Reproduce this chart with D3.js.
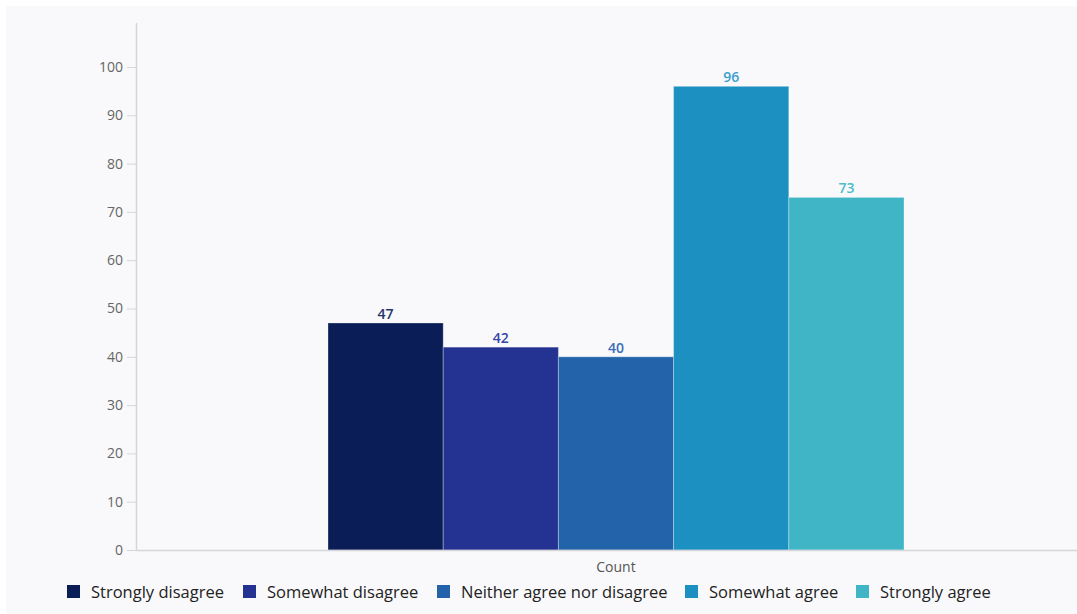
<!DOCTYPE html>
<html><head><meta charset="utf-8">
<script src="https://cdn.jsdelivr.net/npm/d3@7"></script>
<style>
html,body{margin:0;padding:0;background:#fff;}
svg{display:block;}
text{font-family:"Open Sans","Noto Sans",sans-serif;}
</style></head>
<body><svg id="chart" width="1077" height="614"></svg>
<script>
const groups = ["Count"];
const categories = ["Strongly disagree","Somewhat disagree","Neither agree nor disagree","Somewhat agree","Strongly agree"];
const values = [47, 42, 40, 96, 73];
const colors = ["#0a1d56","#243391","#2363a9","#1c90c0","#40b5c5"];
const labelColors = ["#27346a","#3545a8","#3a6db8","#3a9fd0","#4cbdcc"];
const yTicks = [0,10,20,30,40,50,60,70,80,90,100];

const svg = d3.select("#chart");
svg.append("rect").attr("x",6).attr("y",6).attr("width",1071).attr("height",608).attr("fill","#f9f9fb");

const y = d3.scaleLinear().domain([0,100]).range([550,67]);
const x0 = d3.scaleBand().domain(groups).range([136,1096]).paddingInner(0).paddingOuter(1/3);
const x1 = d3.scaleBand().domain(categories).range([0,x0.bandwidth()]).padding(0);

// y axis
const yAxis = d3.axisLeft(y).tickValues(yTicks).tickSize(9).tickPadding(4).tickFormat(d3.format("d"));
const gy = svg.append("g").attr("transform","translate(136,0)").call(yAxis);
gy.select(".domain").remove();
gy.selectAll(".tick line").attr("stroke","#d6d6da");
gy.selectAll(".tick text").attr("fill","#666").style("font-size","14px");
svg.append("line").attr("x1",136.5).attr("x2",136.5).attr("y1",23).attr("y2",550).attr("stroke","#d6d6da").attr("stroke-width",1.5);

// bars
const g = svg.append("g").attr("transform",`translate(${x0("Count")},0)`);
g.selectAll("rect").data(values).join("rect")
  .attr("x",(d,i)=>x1(categories[i]))
  .attr("y",d=>y(d))
  .attr("width",x1.bandwidth())
  .attr("height",d=>y(0)-y(d))
  .attr("fill",(d,i)=>colors[i])
  .attr("stroke","rgba(255,255,255,0.3)").attr("stroke-width",1);
g.selectAll("text.val").data(values).join("text").attr("class","val")
  .attr("x",(d,i)=>x1(categories[i])+x1.bandwidth()/2)
  .attr("y",d=>y(d)-4)
  .attr("text-anchor","middle")
  .attr("fill",(d,i)=>labelColors[i])
  .style("font-size","14px").style("font-weight","600")
  .text(d=>d);

// x axis
const xAxis = d3.axisBottom(x0).tickSize(0).tickPadding(12);
const gx = svg.append("g").attr("transform","translate(0,550)").call(xAxis);
gx.select(".domain").remove();
gx.selectAll(".tick text").attr("fill","#555").style("font-size","14px");
svg.append("line").attr("x1",136).attr("x2",1077).attr("y1",550.5).attr("y2",550.5).attr("stroke","#d6d6da").attr("stroke-width",1.5);

// legend
const legX = [67, 243, 437, 685, 856];
const leg = svg.append("g");
categories.forEach((c,i)=>{
  leg.append("rect").attr("x",legX[i]).attr("y",585).attr("width",13).attr("height",13).attr("fill",colors[i]);
  leg.append("text").attr("x",legX[i]+24).attr("y",598).attr("fill","#222").style("font-size","16.5px").text(c);
});
</script></body></html>
